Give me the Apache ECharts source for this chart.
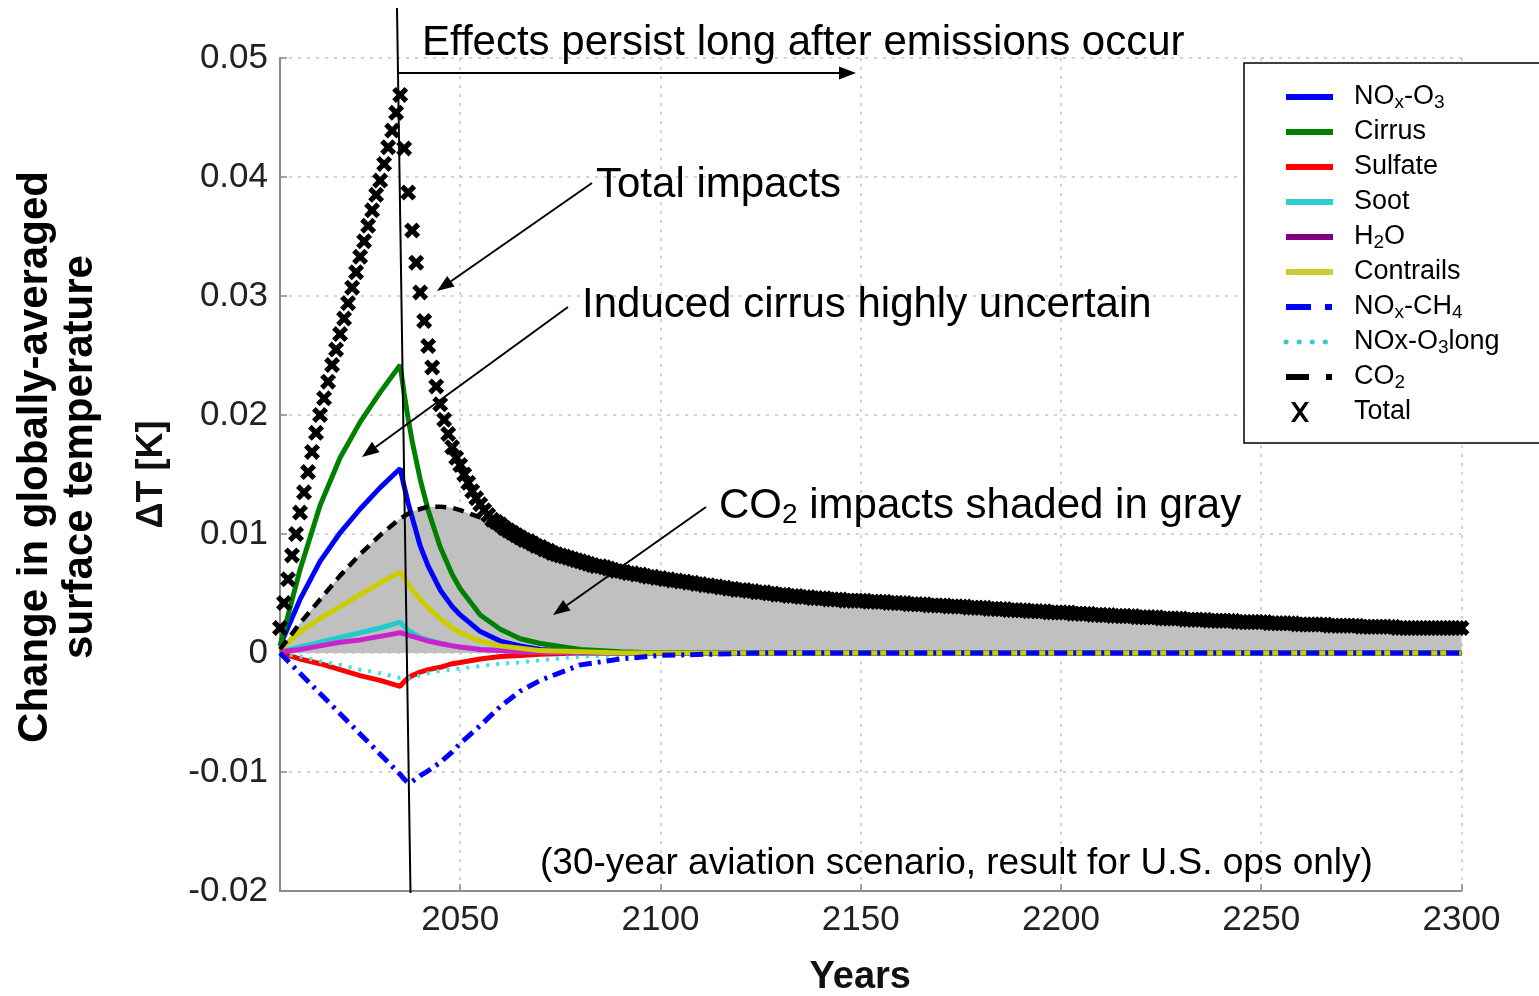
<!DOCTYPE html>
<html>
<head>
<meta charset="utf-8">
<script src="https://cdn.jsdelivr.net/npm/echarts@6/dist/echarts.min.js"></script>
<style>
  html, body { margin: 0; padding: 0; background: #fff; }
  #chart { width: 1539px; height: 996px; }
</style>
</head>
<body>
<div id="chart"></div>
<script>
// ---- Data: temperature response (K) to a 30-year aviation emissions pulse ----
const componentYears = [2005, 2010, 2015, 2020, 2025, 2030, 2035, 2036, 2037, 2038, 2040, 2042, 2045, 2048,
                        2050, 2055, 2060, 2065, 2070, 2080, 2090, 2100, 2125, 2150, 2175, 2200, 2250, 2300];

const noxO3 = [.0006, .0045, .0077, .0101, .0121, .0139, .0155, .0140, .0126, .0114, .0090, .0073, .0053, .0039,
               .0032, .0018, .0010, .0006, .0003, .0001, 0, 0, 0, 0, 0, 0, 0, 0];
const cirrus = [.0006, .0070, .0124, .0164, .0194, .0219, .0242, .0218, .0197, .0178, .0146, .0120, .0089, .0066,
                .0054, .0032, .0020, .0012, .0008, .0003, .0001, 0, 0, 0, 0, 0, 0, 0];
const sulfate = [0, -.0005, -.0009, -.0014, -.0019, -.0023, -.0028, -.0024, -.0021, -.0019, -.0016, -.0014, -.0012, -.0009,
                 -.0008, -.0005, -.0003, -.0002, -.0001, 0, 0, 0, 0, 0, 0, 0, 0, 0];
const soot = [.0001, .0005, .0009, .0013, .0017, .0021, .0026, .0022, .0019, .0017, .0013, .0011, .0008, .0006,
              .0005, .0003, .0002, .0001, .0001, 0, 0, 0, 0, 0, 0, 0, 0, 0];
const h2o = [.0001, .0003, .0006, .0009, .0011, .0014, .0017, .0016, .0015, .0014, .0012, .0010, .0008, .0006,
             .0005, .0003, .0002, .0001, .0001, 0, 0, 0, 0, 0, 0, 0, 0, 0];
const contrails = [.0003, .0018, .0029, .0039, .0049, .0059, .0068, .0063, .0058, .0053, .0045, .0038, .0029, .0021,
                   .0017, .0010, .0006, .0004, .0002, .0001, 0, 0, 0, 0, 0, 0, 0, 0];
const noxCH4 = [0, -.0017, -.0034, -.0051, -.0068, -.0085, -.0102, -.0106, -.0109, -.0108, -.0103, -.0099, -.0092, -.0083,
                -.0076, -.0061, -.0045, -.0032, -.0023, -.0010, -.0005, -.0002, 0, 0, 0, 0, 0, 0];
const noxO3long = [0, -.0003, -.0007, -.0010, -.0014, -.0017, -.0021, -.0021, -.0021, -.0020, -.0019, -.0017, -.0015, -.0014,
                   -.0013, -.0011, -.0009, -.0008, -.0006, -.0003, -.0002, -.0001, 0, 0, 0, 0, 0, 0];
const co2 = [.0003, .0025, .0045, .0065, .0083, .0099, .0113, .0115, .0117, .0119, .0121, .0123, .0123, .0122,
             .0120, .0114, .0107, .0099, .0092, .0080, .0070, .0063, .0051, .0044, .0038, .0034, .0026, .0021];

// Total response, one value per year starting in totalStartYear
const totalStartYear = 2005;
const total = [
  .0021, .0042, .0062, .0082, .0100, .0118, .0135, .0152, .0169, .0185,
  .0200, .0214, .0228, .0242, .0255, .0268, .0281, .0294, .0307, .0320,
  .0333, .0346, .0359, .0372, .0385, .0397, .0411, .0425, .0439, .0454,
  .0469, .0424, .0387, .0355, .0328, .0303, .0279, .0258, .0240, .0224,
  .0209, .0196, .0184, .0173, .0164, .0158, .0150, .0143, .0136, .0130,
  .0125, .0120, .0116, .0112, .0110, .0108, .0105, .0103, .0101, .0099,
  .0097, .0095, .0094, .0092, .0090, .0089, .0087, .0086, .0084, .0083,
  .0082, .0081, .0080, .0079, .0078, .0077, .0076, .0075, .0074, .0073,
  .0073, .0072, .0071, .0070, .0069, .0069, .0068, .0067, .0067, .0066,
  .0066, .0065, .0064, .0064, .0063, .0063, .0062, .0062, .0061, .0061,
  .0060, .0060, .0059, .0059, .0058, .0058, .0057, .0057, .0056, .0056,
  .0055, .0055, .0054, .0054, .0053, .0053, .0053, .0052, .0052, .0051,
  .0051, .0051, .0050, .0050, .0049, .0049, .0049, .0048, .0048, .0048,
  .0047, .0047, .0047, .0046, .0046, .0046, .0046, .0045, .0045, .0045,
  .0045, .0044, .0044, .0044, .0044, .0044, .0044, .0043, .0043, .0043,
  .0043, .0043, .0042, .0042, .0042, .0042, .0042, .0041, .0041, .0041,
  .0041, .0041, .0040, .0040, .0040, .0040, .0040, .0039, .0039, .0039,
  .0039, .0039, .0038, .0038, .0038, .0038, .0038, .0037, .0037, .0037,
  .0037, .0037, .0036, .0036, .0036, .0036, .0036, .0035, .0035, .0035,
  .0035, .0035, .0034, .0034, .0034, .0034, .0034, .0034, .0033, .0033,
  .0033, .0033, .0033, .0032, .0032, .0032, .0032, .0032, .0031, .0031,
  .0031, .0031, .0031, .0031, .0030, .0030, .0030, .0030, .0030, .0030,
  .0029, .0029, .0029, .0029, .0029, .0029, .0028, .0028, .0028, .0028,
  .0028, .0028, .0027, .0027, .0027, .0027, .0027, .0027, .0027, .0026,
  .0026, .0026, .0026, .0026, .0026, .0026, .0026, .0025, .0025, .0025,
  .0025, .0025, .0025, .0025, .0024, .0024, .0024, .0024, .0024, .0024,
  .0024, .0024, .0023, .0023, .0023, .0023, .0023, .0023, .0023, .0023,
  .0022, .0022, .0022, .0022, .0022, .0022, .0022, .0022, .0022, .0021,
  .0021, .0021, .0021, .0021, .0021, .0021, .0021, .0021, .0021, .0021,
  .0021, .0021, .0021, .0021, .0021, .0021
];

// Legend labels (rich text with subscripts)
const legendLabels = {
  'NOx-O3': '{p|NO}{s|x}{t|-O}{s|3}',
  'Cirrus': '{p|Cirrus}',
  'Sulfate': '{p|Sulfate}',
  'Soot': '{p|Soot}',
  'H2O': '{p|H}{s|2}{t|O}',
  'Contrails': '{p|Contrails}',
  'NOx-CH4': '{p|NO}{s|x}{t|-CH}{s|4}',
  'NOx-O3long': '{p|NOx-O}{s|3}{t|long}',
  'CO2': '{p|CO}{s|2}',
  'Total': '{p|Total}'
};

const FONT = "'Liberation Sans', Arial, Helvetica, sans-serif";

const pairs = vals => componentYears.map((y, i) => [y, vals[i]]);
const totalPairs = total.map((v, i) => [totalStartYear + i, v]);

const X_SYMBOL = 'path://M0,2.3L2.3,0L5,2.7L7.7,0L10,2.3L7.3,5L10,7.7L7.7,10L5,7.3L2.3,10L0,7.7L2.7,5Z';
const X_LEGEND = 'path://M0,0h0.02v0.02h-0.02zM46.98,19.98h0.02v0.02h-0.02zM5,0L9,0L14,7L19,0L23,0L16.2,10L23,20L19,20L14,13L9,20L5,20L11.8,10Z';

function lineSeries(name, vals, color, width, dash, extra) {
  return Object.assign({
    name: name,
    type: 'line',
    data: pairs(vals),
    symbol: 'none',
    smooth: false,
    lineStyle: { color: color, width: width, type: dash || 'solid' },
    itemStyle: { color: color },
    emphasis: { disabled: true }
  }, extra || {});
}

// ---- Annotations (arrows and notes) ----
const arrows = [
  { from: [398, 73], to: [856, 73] },
  { from: [592, 183], to: [437, 291] },
  { from: [568, 307], to: [362, 457] },
  { from: [706, 507], to: [553, 615] }
];

function arrowGraphics(a) {
  const [x1, y1] = a.from, [x2, y2] = a.to;
  const dx = x2 - x1, dy = y2 - y1, L = Math.hypot(dx, dy);
  const ux = dx / L, uy = dy / L, hl = 17, hw = 6.5;
  const bx = x2 - ux * hl, by = y2 - uy * hl;
  return [
    { type: 'line', z: 50, shape: { x1: x1, y1: y1, x2: bx, y2: by }, style: { stroke: '#000', lineWidth: 2 } },
    { type: 'polygon', z: 50, shape: { points: [[x2, y2], [bx - uy * hw, by + ux * hw], [bx + uy * hw, by - ux * hw]] },
      style: { fill: '#000' } }
  ];
}

const noteStyle = { fill: '#000', fontFamily: FONT, fontSize: 42, align: 'left', verticalAlign: 'middle' };

const graphics = [
  { type: 'line', z: 50, shape: { x1: 397, y1: 8, x2: 410.5, y2: 893 }, style: { stroke: '#000', lineWidth: 2 } },
  ...arrows.flatMap(arrowGraphics),
  { type: 'text', z: 50, style: Object.assign({}, noteStyle, { x: 422, y: 43, text: 'Effects persist long after emissions occur' }) },
  { type: 'text', z: 50, style: Object.assign({}, noteStyle, { x: 596, y: 185, text: 'Total impacts' }) },
  { type: 'text', z: 50, style: Object.assign({}, noteStyle, { x: 582, y: 305, text: 'Induced cirrus highly uncertain' }) },
  { type: 'text', z: 50, style: Object.assign({}, noteStyle, {
      x: 719, y: 506, text: '{a|CO}{b|2}{a| impacts shaded in gray}',
      rich: {
        a: { fontFamily: FONT, fontSize: 42, lineHeight: 46, fill: '#000' },
        b: { fontFamily: FONT, fontSize: 28, lineHeight: 18, verticalAlign: 'bottom', fill: '#000' }
      } }) },
  { type: 'text', z: 50, style: Object.assign({}, noteStyle, {
      x: 540, y: 864, fontSize: 37, text: '(30-year aviation scenario, result for U.S. ops only)' }) }
];

const chart = echarts.init(document.getElementById('chart'), null, { renderer: 'canvas' });

const option = {
  animation: false,
  backgroundColor: '#fff',
  grid: { left: 280, right: 77.5, top: 58, bottom: 105, containLabel: false, outerBoundsMode: 'none' },
  xAxis: {
    type: 'value',
    min: 2005,
    max: 2300,
    name: 'Years',
    nameLocation: 'middle',
    nameGap: 68,
    nameTextStyle: { fontFamily: FONT, fontSize: 38, fontWeight: 'bold', color: '#111', padding: [0, 21, 0, 0] },
    axisLine: { show: true, onZero: false, lineStyle: { color: '#8c8c8c', width: 2 } },
    axisTick: { show: true, inside: true, length: 7, lineStyle: { color: '#8c8c8c', width: 1.5 } },
    axisLabel: {
      showMinLabel: false, fontFamily: FONT, fontSize: 35, color: '#222', margin: 12,
      formatter: v => String(Math.round(v))
    },
    splitLine: { show: true, lineStyle: { color: '#c4c4c4', width: 1.5, type: [3, 6] } }
  },
  yAxis: {
    type: 'value',
    min: -0.02,
    max: 0.05,
    interval: 0.01,
    name: '{a|Change in globally-averaged}\n{a|surface temperature}\n{b|ΔT [K]}',
    nameLocation: 'middle',
    nameRotate: 90,
    nameGap: 78.5,
    nameTextStyle: {
      color: '#000',
      rich: {
        a: { fontFamily: FONT, fontSize: 42, fontWeight: 'bold', lineHeight: 45, padding: [0, 0, 0, 35], color: '#000' },
        b: { fontFamily: FONT, fontSize: 36, fontWeight: 'bold', lineHeight: 99, color: '#111' }
      }
    },
    axisLine: { show: true, onZero: false, lineStyle: { color: '#8c8c8c', width: 2 } },
    axisTick: { show: true, inside: true, length: 7, lineStyle: { color: '#8c8c8c', width: 1.5 } },
    axisLabel: {
      fontFamily: FONT, fontSize: 35, color: '#222', margin: 12,
      formatter: v => (Math.abs(v) < 1e-9 ? '0' : v.toFixed(2))
    },
    splitLine: { show: true, lineStyle: { color: '#c4c4c4', width: 1.5, type: [3, 6] } }
  },
  legend: {
    orient: 'vertical',
    left: 1244,
    top: 63,
    padding: [19, 300, 16, 39],
    itemGap: 5,
    itemWidth: 47,
    itemHeight: 20,
    backgroundColor: '#fff',
    borderColor: '#000',
    borderWidth: 1.5,
    borderRadius: 0,
    selectedMode: false,
    itemStyle: { opacity: 0 },
    formatter: name => legendLabels[name],
    textStyle: {
      fontFamily: FONT, fontSize: 27, lineHeight: 30, color: '#000',
      rich: {
        p: { fontFamily: FONT, fontSize: 27, lineHeight: 30, color: '#000', padding: [0, 0, 0, 16] },
        t: { fontFamily: FONT, fontSize: 27, lineHeight: 30, color: '#000' },
        s: { fontFamily: FONT, fontSize: 19, lineHeight: 12, color: '#000', verticalAlign: 'bottom' }
      }
    },
    data: [
      { name: 'NOx-O3', lineStyle: { width: 6 } },
      { name: 'Cirrus', lineStyle: { width: 6 } },
      { name: 'Sulfate', lineStyle: { width: 6 } },
      { name: 'Soot', lineStyle: { width: 6, color: '#33cccc' } },
      { name: 'H2O', lineStyle: { width: 6, color: '#800080' } },
      { name: 'Contrails', lineStyle: { width: 6, color: '#cccc33' } },
      { name: 'NOx-CH4', lineStyle: { width: 6, type: [25, 14, 7, 20] } },
      { name: 'NOx-O3long', lineStyle: { width: 5, color: '#33cccc', type: [0.1, 13], cap: 'round' } },
      { name: 'CO2', lineStyle: { width: 6, type: [23, 17, 6, 20] } },
      { name: 'Total', icon: X_LEGEND, itemStyle: { opacity: 1, color: '#000' } }
    ]
  },
  graphic: graphics,
  series: [
    // CO2 contribution shaded from zero
    {
      name: 'CO2 shading',
      type: 'line',
      data: pairs(co2),
      symbol: 'none',
      lineStyle: { width: 0, opacity: 0 },
      areaStyle: { color: '#c0c0c0', opacity: 1 },
      emphasis: { disabled: true },
      z: 1
    },
    lineSeries('Sulfate', sulfate, '#ff0000', 5),
    lineSeries('NOx-O3long', noxO3long, '#3fe0e0', 4, [3, 7]),
    lineSeries('Soot', soot, '#22cccc', 5),
    lineSeries('H2O', h2o, '#cc22cc', 5),
    lineSeries('NOx-O3', noxO3, '#0000ff', 5),
    lineSeries('Cirrus', cirrus, '#008000', 5),
    lineSeries('Contrails', contrails, '#cccc00', 5),
    lineSeries('NOx-CH4', noxCH4, '#0000ff', 5, [13, 6, 3, 6]),
    lineSeries('CO2', co2, '#000000', 4.5, [11, 7]),
    {
      name: 'Total',
      type: 'scatter',
      data: totalPairs,
      symbol: X_SYMBOL,
      symbolSize: 16,
      itemStyle: { color: '#000', opacity: 1 },
      emphasis: { disabled: true },
      z: 3
    }
  ]
};

chart.setOption(option);
</script>
</body>
</html>
